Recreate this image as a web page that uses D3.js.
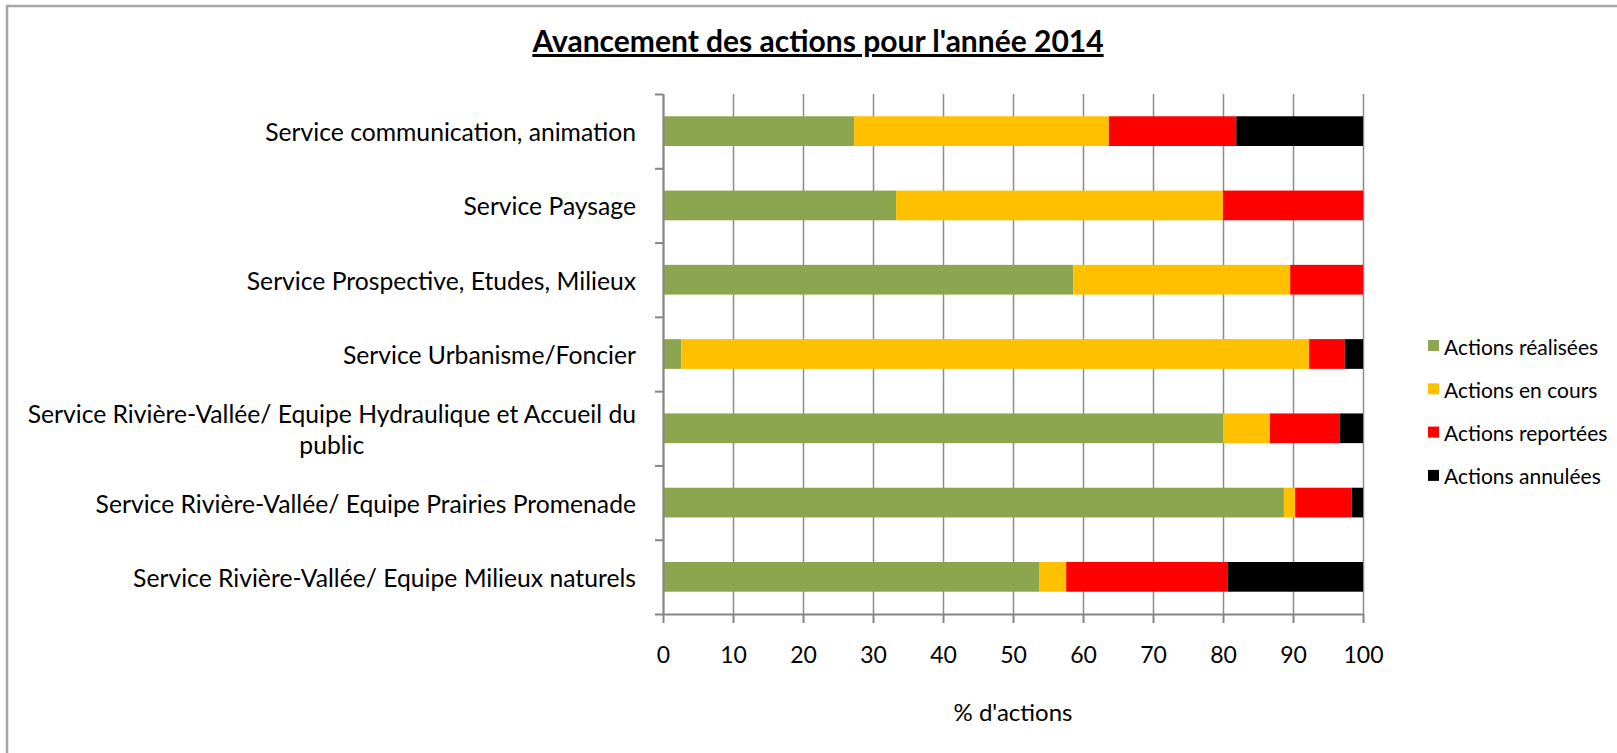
<!DOCTYPE html>
<html lang="fr">
<head>
    <meta charset="UTF-8" />
    <title>Avancement des actions pour l'année 2014</title>
    <script src="https://d3js.org/d3.v7.min.js"></script>
    <style>
        * { margin: 0; padding: 0; box-sizing: border-box; }
        body { background-color: #fff; overflow: hidden; }
        svg { display: block; font-family: Lato, "Open Sans", sans-serif; }
    </style>
</head>
<body>
    <svg width="1617" height="753"></svg>

    <script>
        // Categories (top to bottom), one label line per array entry
        var categories = [
            ["Service communication, animation"],
            ["Service Paysage"],
            ["Service Prospective, Etudes, Milieux"],
            ["Service Urbanisme/Foncier"],
            ["Service Rivière-Vallée/ Equipe Hydraulique et Accueil du", "public"],
            ["Service Rivière-Vallée/ Equipe Prairies Promenade"],
            ["Service Rivière-Vallée/ Equipe Milieux naturels"]
        ];

        // Series names and colours
        var seriesNames = ["Actions réalisées", "Actions en cours", "Actions reportées", "Actions annulées"];
        var seriesColors = ["#8ba64e", "#ffc000", "#ff0000", "#000000"];

        // Percentages (same order as categories)
        var realisees = [27.3, 33.3, 58.6, 2.6, 80.0, 88.7, 53.8];
        var enCours   = [36.4, 46.7, 31.0, 89.7, 6.7, 1.6, 3.8];
        var reportees = [18.2, 20.0, 10.4, 5.1, 10.0, 8.1, 23.1];
        var annulees  = [18.1, 0.0, 0.0, 2.6, 3.3, 1.6, 19.3];

        var xTicks = [0, 10, 20, 30, 40, 50, 60, 70, 80, 90, 100];

        // Layout
        var plotLeft = 663, plotRight = 1363, plotTop = 94, plotBottom = 614;

        var svg = d3.select("svg");

        // Outer chart frame: only the top and left edges are inside the picture
        svg.append("path")
            .attr("d", "M7,760 L7,6 L1620,6")
            .attr("fill", "none")
            .attr("stroke", "#a6a6a6")
            .attr("stroke-width", 2.5);

        // Build table for d3.stack
        var table = categories.map(function(c, i) {
            return {
                key: i,
                "Actions réalisées": realisees[i],
                "Actions en cours": enCours[i],
                "Actions reportées": reportees[i],
                "Actions annulées": annulees[i]
            };
        });

        var stacked = d3.stack().keys(seriesNames)(table);

        var xScale = d3.scaleLinear()
            .domain([0, 100])
            .range([plotLeft, plotRight]);

        var yScale = d3.scaleBand()
            .domain(d3.range(categories.length))
            .range([plotTop, plotBottom])
            .paddingInner(0.6)
            .paddingOuter(0.3);

        // Category boundaries, for the left axis ticks
        var yEdge = d3.scaleLinear()
            .domain([0, categories.length])
            .range([plotTop, plotBottom]);

        // Vertical gridlines
        var grid = svg.append("g")
            .attr("transform", "translate(0," + plotBottom + ")")
            .call(d3.axisBottom(xScale)
                .tickValues(xTicks)
                .tickSize(-(plotBottom - plotTop))
                .tickFormat(""));
        grid.select(".domain").remove();
        grid.selectAll("line")
            .attr("stroke", "#8c8c8c")
            .attr("stroke-width", 1.5);

        // Stacked bars
        svg.selectAll("g.series")
            .data(stacked)
            .enter()
            .append("g")
            .attr("class", "series")
            .attr("fill", function(d, i) { return seriesColors[i]; })
            .selectAll("rect")
            .data(function(d) { return d; })
            .enter()
            .append("rect")
            .attr("x", function(d) { return xScale(d[0]); })
            .attr("y", function(d) { return yScale(d.data.key); })
            .attr("width", function(d) { return Math.max(0, xScale(d[1]) - xScale(d[0])); })
            .attr("height", yScale.bandwidth());

        // Left axis (ticks between categories)
        var yAxisG = svg.append("g")
            .attr("transform", "translate(" + plotLeft + ",0)")
            .call(d3.axisLeft(yEdge)
                .tickValues(d3.range(categories.length + 1))
                .tickSize(8)
                .tickSizeOuter(0)
                .tickFormat(""));
        yAxisG.selectAll("line, path")
            .attr("stroke", "#868686")
            .attr("stroke-width", 2);

        // Bottom axis
        var xAxisG = svg.append("g")
            .attr("transform", "translate(0," + plotBottom + ")")
            .call(d3.axisBottom(xScale)
                .tickValues(xTicks)
                .tickSize(9)
                .tickSizeOuter(0)
                .tickPadding(24));
        xAxisG.selectAll("line, path")
            .attr("stroke", "#868686")
            .attr("stroke-width", 2);
        xAxisG.selectAll("text")
            .attr("font-family", "Lato, sans-serif")
            .attr("font-size", "23px")
            .attr("fill", "#000");

        // Category labels (multi-line labels are centred on their block)
        var labelRight = 636;
        var lineHeight = 31;
        categories.forEach(function(lines, i) {
            var cy = yScale(i) + yScale.bandwidth() / 2;
            var t = svg.append("text")
                .attr("font-size", "24.7px")
                .attr("fill", "#000")
                .attr("dominant-baseline", "central");
            lines.forEach(function(line, j) {
                t.append("tspan")
                    .attr("y", cy + (j - (lines.length - 1) / 2) * lineHeight)
                    .text(line);
            });
            if (lines.length === 1) {
                t.attr("text-anchor", "end");
                t.selectAll("tspan").attr("x", labelRight);
            } else {
                var w = d3.max(t.selectAll("tspan").nodes(), function(n) { return n.getComputedTextLength(); });
                t.attr("text-anchor", "middle");
                t.selectAll("tspan").attr("x", labelRight - w / 2);
            }
        });

        // Title
        svg.append("text")
            .attr("x", 818)
            .attr("y", 52)
            .attr("text-anchor", "middle")
            .attr("font-size", "30px")
            .attr("font-weight", "bold")
            .attr("text-decoration", "underline")
            .attr("fill", "#000")
            .text("Avancement des actions pour l'année 2014");

        // X axis title
        svg.append("text")
            .attr("x", (plotLeft + plotRight) / 2)
            .attr("y", 711)
            .attr("text-anchor", "middle")
            .attr("dominant-baseline", "central")
            .attr("font-size", "24px")
            .attr("fill", "#000")
            .text("% d'actions");

        // Legend
        var legend = svg.selectAll("g.legend")
            .data(seriesNames)
            .enter()
            .append("g")
            .attr("class", "legend")
            .attr("transform", function(d, i) { return "translate(1428," + (346 + i * 43.3) + ")"; });

        legend.append("rect")
            .attr("x", 0)
            .attr("y", -6)
            .attr("width", 11)
            .attr("height", 11)
            .attr("fill", function(d, i) { return seriesColors[i]; });

        legend.append("text")
            .attr("x", 16)
            .attr("y", 0)
            .attr("dominant-baseline", "central")
            .attr("font-size", "21px")
            .attr("fill", "#000")
            .text(function(d) { return d; });
    </script>
</body>
</html>
